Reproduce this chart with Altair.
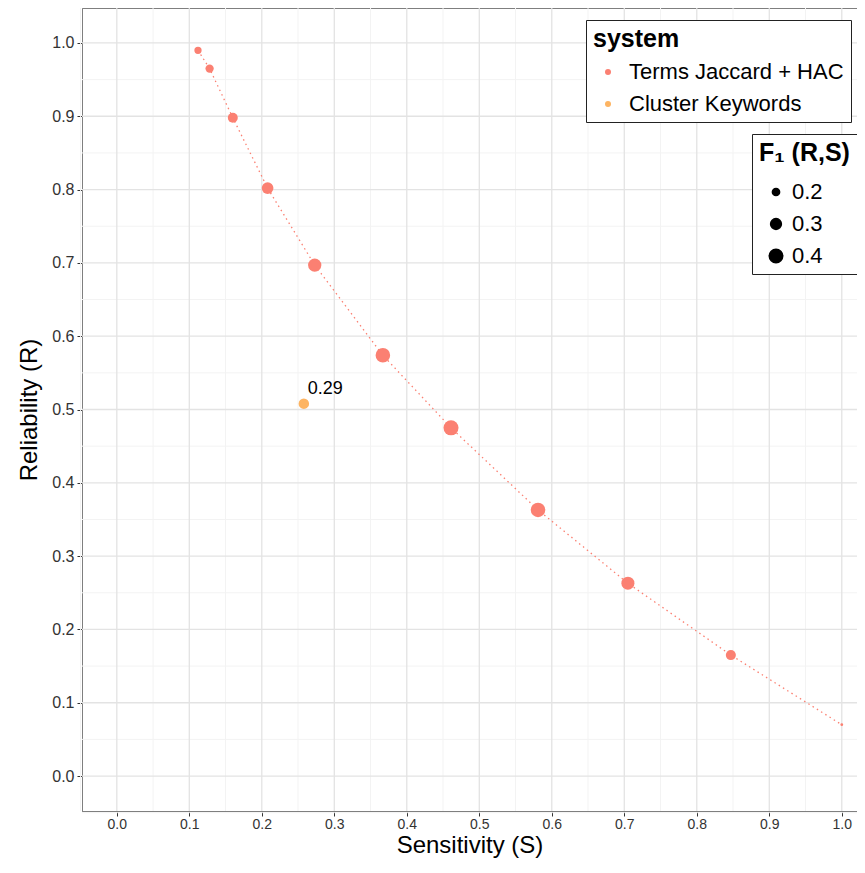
import altair as alt
import pandas as pd

# ---- data ----
system_names = ["Terms Jaccard + HAC", "Cluster Keywords"]
hac_S = [0.112, 0.128, 0.160, 0.208, 0.273, 0.367, 0.461, 0.581, 0.705, 0.847, 1.000]
hac_R = [0.990, 0.965, 0.898, 0.802, 0.697, 0.574, 0.475, 0.363, 0.263, 0.165, 0.070]
hac_F1 = [0.201, 0.226, 0.272, 0.330, 0.392, 0.448, 0.468, 0.447, 0.383, 0.276, 0.131]
kw_S = [0.258]
kw_R = [0.508]
kw_F1 = [0.29]
kw_label = ["0.29"]

major_ticks = [0.0, 0.1, 0.2, 0.3, 0.4, 0.5, 0.6, 0.7, 0.8, 0.9, 1.0]
minor_ticks = [-0.05, 0.05, 0.15, 0.25, 0.35, 0.45, 0.55, 0.65, 0.75, 0.85, 0.95]

hac = pd.DataFrame({"S": hac_S, "R": hac_R, "F1": hac_F1, "system": system_names[0]})
kw = pd.DataFrame({"S": kw_S, "R": kw_R, "F1": kw_F1, "system": system_names[1], "label": kw_label})
pts = pd.concat([hac, kw], ignore_index=True)
major_df = pd.DataFrame({"v": major_ticks})
minor_df = pd.DataFrame({"v": minor_ticks})

FONT = "Liberation Sans"
x_scale = alt.Scale(domain=[-0.048, 1.021], nice=False, zero=False)
y_scale = alt.Scale(domain=[-0.0477, 1.0477], nice=False, zero=False)
color_scale = alt.Scale(domain=system_names, range=["#FB8072", "#FDB462"])
size_scale = alt.Scale(domain=[0.13, 0.47], range=[7, 227])

x_axis = alt.Axis(values=major_ticks, format=".1f", grid=False, title="Sensitivity (S)",
                  labelFontSize=14, labelColor="#333333", labelPadding=1, tickSize=5,
                  tickColor="#333333", domainColor="#7F7F7F", titleFontSize=24,
                  titleFontWeight="normal", titleColor="black", titlePadding=2, titleFont=FONT,
                  labelFont=FONT)
y_axis = alt.Axis(values=major_ticks, format=".1f", grid=False, title="Reliability (R)",
                  labelFontSize=16, labelColor="#333333", labelPadding=3, tickSize=5,
                  tickColor="#333333", domainColor="#7F7F7F", titleFontSize=24,
                  titleFontWeight="normal", titleColor="black", titlePadding=10, titleFont=FONT,
                  labelFont=FONT)

minor_v = alt.Chart(minor_df).mark_rule(color="#F3F3F3", strokeWidth=1).encode(
    x=alt.X("v:Q", scale=x_scale, axis=x_axis))
minor_h = alt.Chart(minor_df).mark_rule(color="#F3F3F3", strokeWidth=1).encode(
    y=alt.Y("v:Q", scale=y_scale, axis=y_axis))
major_v = alt.Chart(major_df).mark_rule(color="#E3E3E3", strokeWidth=1.3).encode(
    x=alt.X("v:Q", scale=x_scale, axis=x_axis))
major_h = alt.Chart(major_df).mark_rule(color="#E3E3E3", strokeWidth=1.3).encode(
    y=alt.Y("v:Q", scale=y_scale, axis=y_axis))

line = alt.Chart(hac).mark_line(strokeDash=[1.5, 3.5], strokeWidth=1.3, color="#FB8072").encode(
    x=alt.X("S:Q", scale=x_scale, axis=x_axis),
    y=alt.Y("R:Q", scale=y_scale, axis=y_axis),
    order="S:Q",
)

points = alt.Chart(pts).mark_circle(opacity=1).encode(
    x=alt.X("S:Q", scale=x_scale, axis=x_axis),
    y=alt.Y("R:Q", scale=y_scale, axis=y_axis),
    color=alt.Color("system:N", scale=color_scale, sort=system_names,
                    legend=alt.Legend(title="system", orient="none", legendX=504, legendY=12,
                                      symbolType="circle", symbolSize=36, symbolOffset=4,
                                      labelOffset=10, rowPadding=10, padding=7, titlePadding=9,
                                      labelLimit=400)),
    size=alt.Size("F1:Q", scale=size_scale,
                  legend=alt.Legend(title="F₁ (R,S)", orient="none", legendX=670, legendY=126,
                                    values=[0.2, 0.3, 0.4], format=".1f", symbolFillColor="black",
                                    symbolStrokeColor="black", symbolType="circle",
                                    symbolOffset=6, labelOffset=5, rowPadding=10, padding=7,
                                    titlePadding=15)),
)

text = alt.Chart(kw).mark_text(align="left", baseline="alphabetic", dx=4, dy=-10,
                               fontSize=18, font=FONT, color="black").encode(
    x=alt.X("S:Q", scale=x_scale, axis=x_axis),
    y=alt.Y("R:Q", scale=y_scale, axis=y_axis),
    text="label:N",
)

chart = alt.layer(minor_v, minor_h, major_v, major_h, line, points, text).properties(
    width=775, height=803,
    background="white",
    autosize=alt.AutoSizeParams(type="none"),
    padding={"left": 74, "top": 0, "right": 0, "bottom": 50},
).configure_view(stroke="#7F7F7F", strokeWidth=1).configure_legend(
    strokeColor="#222222", fillColor="white", cornerRadius=0,
    titleFontSize=25, titleFontWeight="bold", titleFont=FONT, titleColor="black",
    labelFontSize=22, labelFont=FONT, labelColor="black",
)

chart.save("out.html", embed_options={"renderer": "svg", "actions": False})
